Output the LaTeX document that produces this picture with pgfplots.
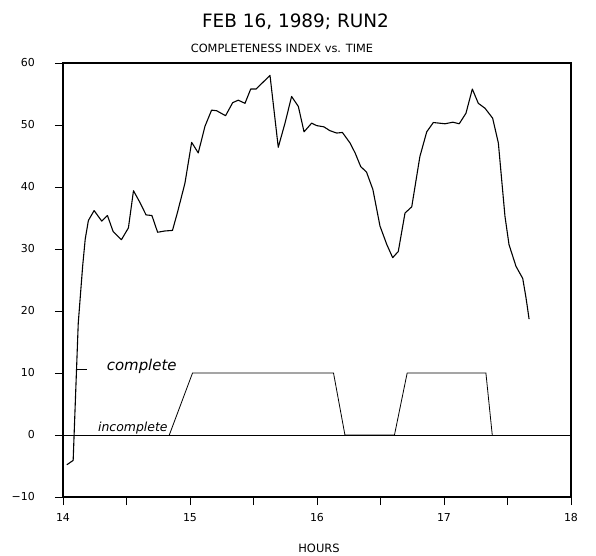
\documentclass[border=0pt]{standalone}
\usepackage{fontspec}
\setmainfont{DejaVu Sans}
\usepackage{pgfplots}
\pgfplotsset{compat=1.18}
\pgfplotstableread{
h v
14.03 -4.8
14.08 -4.1
14.12 18
14.155 27.3
14.175 31.6
14.20 34.6
14.245 36.2
14.305 34.5
14.35 35.4
14.395 32.8
14.46 31.5
14.515 33.4
14.555 39.4
14.606 37.5
14.654 35.5
14.70 35.4
14.745 32.7
14.80 32.9
14.862 33.0
14.90 35.8
14.96 40.6
15.013 47.2
15.065 45.5
15.118 49.8
15.17 52.4
15.21 52.3
15.28 51.5
15.336 53.6
15.38 54.0
15.433 53.5
15.478 55.8
15.52 55.8
15.63 58.0
15.695 46.4
15.748 50.3
15.80 54.6
15.853 53.0
15.898 48.9
15.958 50.3
15.998 49.9
16.055 49.7
16.10 49.1
16.155 48.7
16.20 48.8
16.26 47.1
16.30 45.5
16.344 43.3
16.39 42.4
16.44 39.6
16.496 33.7
16.55 30.7
16.596 28.6
16.64 29.6
16.693 35.8
16.746 36.8
16.81 44.9
16.864 48.9
16.916 50.4
17.008 50.2
17.07 50.45
17.12 50.2
17.173 51.9
17.223 55.8
17.27 53.5
17.323 52.7
17.383 51.1
17.428 47.1
17.454 41.2
17.48 35.3
17.512 30.7
17.567 27.2
17.62 25.25
17.646 22.1
17.67 18.7
}\ciindex
\pgfplotstableread{
h v
14.837 0
15.02 10
16.13 10
16.22 0
16.61 0
16.71 10
17.33 10
17.38 0
}\status
\begin{document}
\begin{tikzpicture}
\useasboundingbox (-63bp,-59bp) rectangle (533bp,497bp);
\begin{axis}[at={(0bp,0bp)}, anchor=south west,
  scale only axis, width=508bp, height=434bp,
  xmin=14, xmax=18, ymin=-10, ymax=60,
  xtick={14,15,16,17,18}, xticklabels={14,15,16,17,18},
  minor xtick={14.5,15.5,16.5,17.5},
  ytick={-10,0,10,20,30,40,50,60},
  yticklabels={−10,0,10,20,30,40,50,60},
  tick align=outside, major tick length=8bp, minor tick length=8bp,
  xtick pos=bottom, ytick pos=left,
  axis line style={line width=1.1pt},
  every tick/.style={line width=0.9pt, black},
  ticklabel style={font=\fontsize{11}{13}\selectfont},
  yticklabel style={anchor=east, inner sep=0pt, xshift=-20bp},
  xticklabel style={anchor=north, inner sep=0pt, yshift=-8bp},
  clip=false]
\addplot[black, line width=0.9pt] coordinates {(14,0) (18,0)};
\addplot[black, line width=0.8pt] table[x=h, y=v] {\status};
\addplot[black, line width=1.1pt, line join=round] table[x=h, y=v] {\ciindex};
\draw[line width=0.8pt] (axis cs:14.11,10.6) -- (axis cs:14.19,10.6);
\node[anchor=base, font=\fontsize{15}{17}\selectfont\itshape] at (axis cs:14.62,10.4) {complete};
\node[anchor=base, font=\fontsize{12.5}{15}\selectfont\itshape] at (axis cs:14.55,0.6) {incomplete};
\end{axis}
\node[anchor=base, font=\fontsize{18.5}{22}\selectfont] at (232.5bp,469bp) {FEB 16, 1989; RUN2};
\node[anchor=base, font=\fontsize{11.4}{13}\selectfont] at (219bp,444bp) {COMPLETENESS INDEX vs. TIME};
\node[anchor=base, font=\fontsize{11.5}{13}\selectfont] at (256bp,-55bp) {HOURS};
\end{tikzpicture}
\end{document}
